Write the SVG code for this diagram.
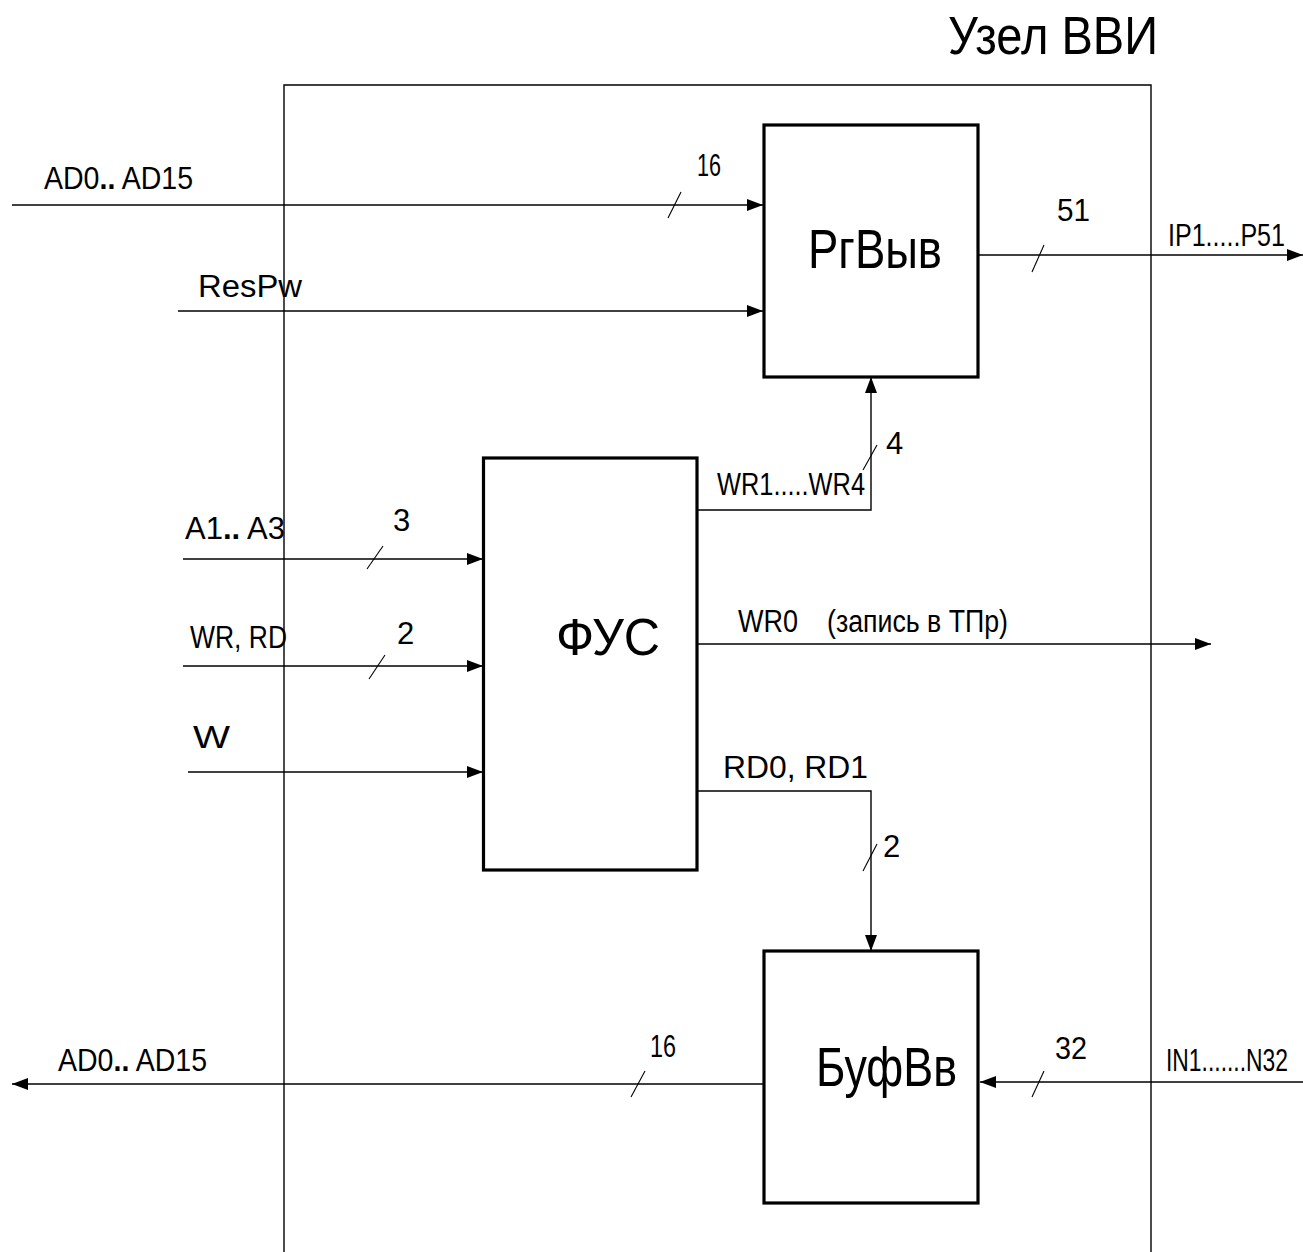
<svg xmlns="http://www.w3.org/2000/svg" width="1303" height="1252" viewBox="0 0 1303 1252">
<style>
  .t { font-family: "Liberation Sans", Arial, sans-serif; font-size: 31px; fill: #000; }
  .f32 { font-size: 32px; }
  .f52 { font-size: 52px; }
  .f54 { font-size: 54px; }
  .f55 { font-size: 55px; }
  .f56 { font-size: 56px; }
  .b { font-weight: bold; }
  .ln { fill: none; stroke: #000; stroke-width: 1.4; }
  .sl { fill: none; stroke: #000; stroke-width: 1.1; }
  .box { fill: #fff; stroke: #000; stroke-width: 3.2; }
</style>
<defs>
  <marker id="arr" markerUnits="userSpaceOnUse" markerWidth="17" markerHeight="13" refX="16" refY="6" orient="auto">
    <path d="M0,0 L16,6 L0,12 z" fill="#000"/>
  </marker>
</defs>
<rect width="1303" height="1252" fill="#fff"/>

<g id="title">
  <text class="t f54" x="948" y="54" textLength="210" lengthAdjust="spacingAndGlyphs">Узел ВВИ</text>
</g>

<g id="frame">
  <path class="ln" d="M284,1252 V85 H1151 V1252"/>
</g>

<g id="connectors">
  <path class="ln" d="M12,205 H763" marker-end="url(#arr)"/>
  <path class="ln" d="M178,311 H763" marker-end="url(#arr)"/>
  <path class="ln" d="M978,255 H1303" marker-end="url(#arr)"/>
  <path class="ln" d="M697,510 H871 V377" marker-end="url(#arr)"/>
  <path class="ln" d="M183,559 H483" marker-end="url(#arr)"/>
  <path class="ln" d="M183,666 H483" marker-end="url(#arr)"/>
  <path class="ln" d="M188,772 H483" marker-end="url(#arr)"/>
  <path class="ln" d="M697,644 H1211" marker-end="url(#arr)"/>
  <path class="ln" d="M697,791 H871 V951" marker-end="url(#arr)"/>
  <path class="ln" d="M1303,1082 H980" marker-end="url(#arr)"/>
  <path class="ln" d="M764,1084 H12" marker-end="url(#arr)"/>
  <!-- bus slashes -->
  <path class="sl" d="M668,218 L681,192"/>
  <path class="sl" d="M1032,272 L1044,245"/>
  <path class="sl" d="M863,470 L877,445"/>
  <path class="sl" d="M367,569 L383,546"/>
  <path class="sl" d="M369,679 L385,655"/>
  <path class="sl" d="M863,871 L877,844"/>
  <path class="sl" d="M1032,1097 L1044,1071"/>
  <path class="sl" d="M631,1097 L645,1071"/>
</g>

<g id="labels">
  <text class="t f32" x="44" y="189" textLength="149" lengthAdjust="spacingAndGlyphs">AD0<tspan class="b">..</tspan> AD15</text>
  <text class="t" x="697" y="176" textLength="24" lengthAdjust="spacingAndGlyphs">16</text>
  <text class="t" x="198" y="297" textLength="104" lengthAdjust="spacingAndGlyphs">ResPw</text>
  <text class="t" x="1057" y="221" textLength="33" lengthAdjust="spacingAndGlyphs">51</text>
  <text class="t" x="1168" y="246" textLength="117" lengthAdjust="spacingAndGlyphs">IP1.....P51</text>
  <text class="t" x="886" y="454">4</text>
  <text class="t" x="717" y="495" textLength="148" lengthAdjust="spacingAndGlyphs">WR1.....WR4</text>
  <text class="t" x="185" y="539" textLength="100" lengthAdjust="spacingAndGlyphs">A1<tspan class="b">..</tspan> A3</text>
  <text class="t" x="393" y="531">3</text>
  <text class="t" x="190" y="648" textLength="97" lengthAdjust="spacingAndGlyphs">WR, RD</text>
  <text class="t" x="397" y="644">2</text>
  <text class="t" x="193" y="748" textLength="37" lengthAdjust="spacingAndGlyphs">W</text>
  <text class="t" x="738" y="632" textLength="60" lengthAdjust="spacingAndGlyphs">WR0</text>
  <text class="t" x="827" y="632" textLength="181" lengthAdjust="spacingAndGlyphs">(запись в ТПр)</text>
  <text class="t" x="723" y="778" textLength="145" lengthAdjust="spacingAndGlyphs">RD0, RD1</text>
  <text class="t" x="883" y="857">2</text>
  <text class="t" x="1055" y="1059" textLength="32" lengthAdjust="spacingAndGlyphs">32</text>
  <text class="t" x="1166" y="1071" textLength="122" lengthAdjust="spacingAndGlyphs">IN1.......N32</text>
  <text class="t f32" x="58" y="1071" textLength="149" lengthAdjust="spacingAndGlyphs">AD0<tspan class="b">..</tspan> AD15</text>
  <text class="t" x="650" y="1057" textLength="26" lengthAdjust="spacingAndGlyphs">16</text>
</g>

<g id="node-rgvyv">
  <rect class="box" x="764" y="125" width="214" height="252"/>
  <text class="t f56" x="808" y="268" textLength="134" lengthAdjust="spacingAndGlyphs">РгВыв</text>
</g>

<g id="node-fus">
  <rect class="box" x="483.5" y="458" width="213.5" height="412"/>
  <text class="t f52" x="556" y="655" textLength="104" lengthAdjust="spacingAndGlyphs">ФУС</text>
</g>

<g id="node-bufvv">
  <rect class="box" x="764" y="951" width="214" height="252"/>
  <text class="t f55" x="816" y="1086" textLength="141" lengthAdjust="spacingAndGlyphs">БуфВв</text>
</g>
</svg>
